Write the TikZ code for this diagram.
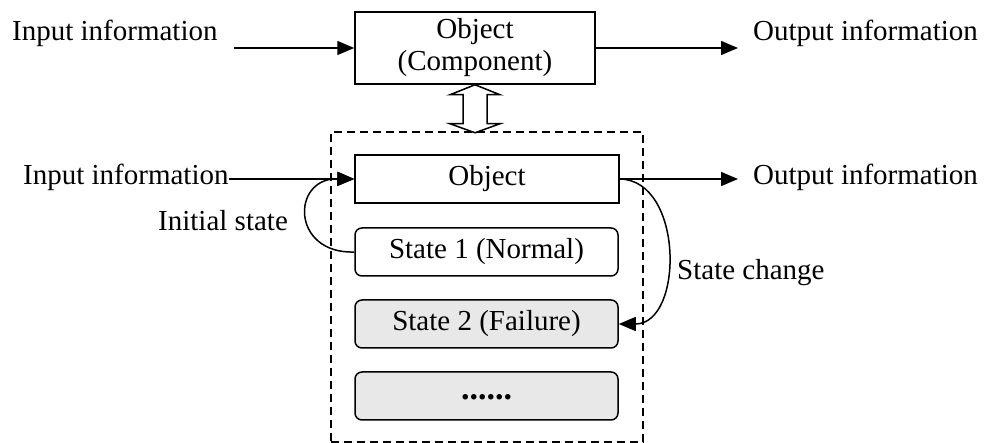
\documentclass[tikz,border=0pt]{standalone}
\usepackage{fontspec}
\setmainfont{Liberation Serif}
\usetikzlibrary{arrows.meta,calc}
\begin{document}
\begin{tikzpicture}[x=1pt,y=-1pt,
  every node/.style={font=\fontsize{29}{32}\selectfont, inner sep=0pt},
  box/.style={draw, line width=1.5pt, minimum width=#1, align=center},
  sbox/.style={draw, line width=1.5pt, rounded corners=7pt, minimum width=263pt, minimum height=48pt},
  gbox/.style={sbox, fill=black!9},
  arr/.style={line width=1.5pt, -{Triangle[length=17pt,width=14pt]}},
  lbl/.style={anchor=base west}]
\useasboundingbox (0,0) rectangle (989,443);
% dashed frame
\node[draw, dash pattern=on 8pt off 5pt, line width=1.3pt, minimum width=312pt, minimum height=310pt] (frame) at (487,287) {};
% top box
\node[box=240pt, minimum height=72pt] (top) at (475,48) {Object\\(Component)};
\node[box=264pt, minimum height=48pt] (obj) at (487,179) {Object};
\node[sbox] (s1) at (486.5,252) {State 1 (Normal)};
\node[gbox] (s2) at (486.5,324) {State 2 (Failure)};
\node[gbox] (s3) at (486.5,396) {\raisebox{-7pt}{\fontsize{34}{34}\selectfont\textbf{......}}};
% labels
\node[lbl] (in1) at (12,41) {Input information};
\node[lbl] (out1) at (753,41) {Output information};
\node[lbl] (in2) at (23,185) {Input information};
\node[lbl] (out2) at (753,185) {Output information};
\node[lbl] (init) at (158,231) {Initial state};
\node[lbl] (chg) at (677,280) {State change};
% free ends
\coordinate (a1) at (234,48);
\coordinate (b1) at (738,48);
\coordinate (a2) at (in2.east |- obj.west);
\coordinate (b2) at (738,179);
\draw[arr] (a1) -- (top.west);
\draw[arr] (top.east) -- (b1);
\draw[arr] (a2) -- (obj.west);
\draw[arr] (obj.east) -- (b2);
% curves
\draw[arr] (s1.west) .. controls (291,254) and (291,178) .. (obj.west);
\draw[arr] (obj.east) .. controls (684,180) and (684,324) .. (s2.east);
% double arrow
\draw[line width=1.5pt, fill=white, line join=miter] (top.south) -- ++(25,10) -- ++(-13,0) -- ++(0,29) -- ++(13,0) -- ++(-25,9) -- ++(-25,-9) -- ++(13,0) -- ++(0,-29) -- ++(-13,0) -- cycle;
\end{tikzpicture}
\end{document}
